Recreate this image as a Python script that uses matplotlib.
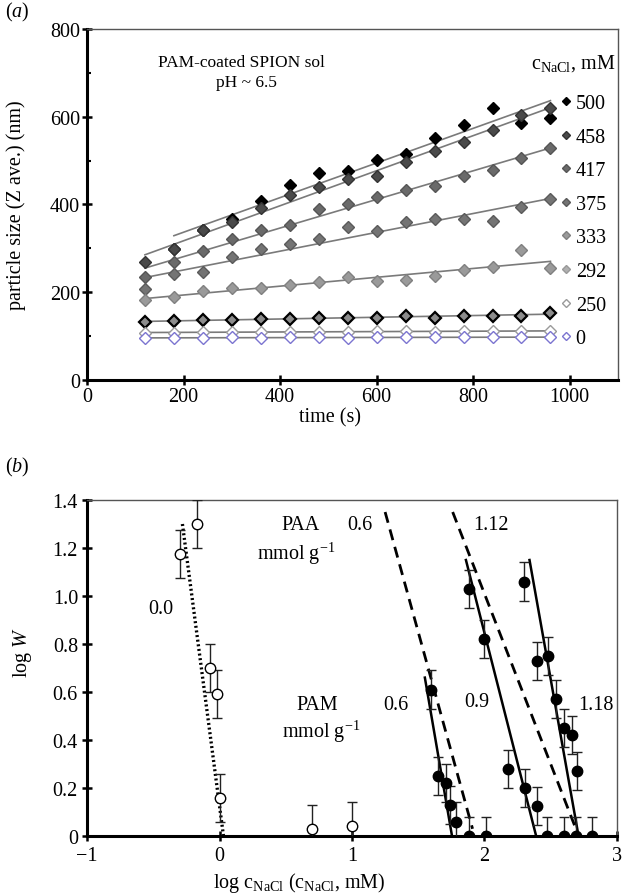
import matplotlib
matplotlib.use('Agg', force=True)
import matplotlib.pyplot as plt
import numpy as np
from matplotlib.lines import Line2D

plt.rcParams['font.family'] = ['Liberation Serif', 'DejaVu Serif']
plt.rcParams['mathtext.fontset'] = 'custom'
plt.rcParams['mathtext.rm'] = 'Liberation Serif'
plt.rcParams['mathtext.it'] = 'Liberation Serif:italic'
plt.rcParams['font.size'] = 14.5

# (a) particle size vs time for each NaCl concentration
time_s = [120, 180, 240, 300, 360, 420, 480, 540, 600, 660, 720, 780, 840, 900, 960]
conc_labels = ['500', '458', '417', '375', '333', '292', '250', '0']
size_500 = [np.nan, 299, 341, 366, 407, 445, 472, 476, 501, 515, 551, 582, 621, 586, 597]
size_458 = [270, 299, 341, 360, 391, 421, 439, 457, 465, 497, 523, 542, 569, 603, 619]
size_417 = [234, 268, 294, 322, 343, 354, 390, 401, 418, 434, 443, 465, 479, 507, 528]
size_375 = [208, 241, 247, 280, 298, 309, 321, 349, 339, 359, 368, 366, 363, 394, 413]
size_333 = [183, 189, 203, 209, 210, 217, 224, 235, 226, 227, 236, 251, 258, 297, 255]
size_292 = [133, 134, 136, 136, 140, 140, 142, 142, 142, 147, 142, 147, 147, 147, 152]
size_250 = [108, 108, 109, 109, 110, 109, 110, 110, 111, 111, 110, 111, 112, 111, 112]
size_0 = [96, 96, 96, 97, 96, 97, 97, 96, 97, 98, 97, 97, 98, 97, 98]

# (b) stability ratio vs log salt concentration
paa00_x = [-0.30, -0.17, -0.07, -0.02, 0.00, 0.70, 1.00]
paa00_y = [1.175, 1.30, 0.70, 0.59, 0.16, 0.03, 0.04]
pam06_x = [1.60, 1.65, 1.71, 1.74, 1.785, 1.88, 2.01]
pam06_y = [0.61, 0.25, 0.22, 0.13, 0.06, 0.0, 0.0]
pam09_x = [1.88, 2.00, 2.175, 2.305, 2.40, 2.475, 2.60]
pam09_y = [1.03, 0.82, 0.28, 0.20, 0.125, 0.0, 0.0]
pam118_x = [2.30, 2.40, 2.48, 2.54, 2.60, 2.66, 2.70, 2.69, 2.81]
pam118_y = [1.06, 0.73, 0.75, 0.57, 0.45, 0.42, 0.27, 0.0, 0.0]
fit_paa00 = ([-0.28, 0.03], [1.30, 0.0])
fit_paa06 = ([1.25, 1.91], [1.35, 0.03])
fit_paa112 = ([1.76, 2.69], [1.35, 0.03])
fit_pam06 = ([1.55, 1.755], [0.66, 0.0])
fit_pam09 = ([1.86, 2.39], [1.15, 0.0])
fit_pam118 = ([2.34, 2.71], [1.15, 0.0])

fig = plt.figure(figsize=(6.22, 8.95), dpi=100)
ax1 = fig.add_axes([0.1399, 0.5743, 0.8537, 0.3922])
ax2 = fig.add_axes([0.1399, 0.0648, 0.852, 0.3754])


def frame(ax):
    for side in ['left', 'bottom']:
        ax.spines[side].set_linewidth(2.2)
        ax.spines[side].set_color('black')
    for side in ['top', 'right']:
        ax.spines[side].set_linewidth(1.0)
        ax.spines[side].set_color('#555555')
    ax.tick_params(which='major', direction='inout', length=7, width=1.8, pad=1.5)
    ax.tick_params(which='minor', direction='in', length=3, width=1.5)
    ax.tick_params(top=False, right=False)


# panel a
series = [size_500, size_458, size_417, size_375, size_333, size_292, size_250, size_0]
faces = ['black', '#4a4a4a', '#6a6a6a', '#747474', '#9a9a9a', '#8c8c8c', 'white', 'white']
edges = ['black', '#333333', '#555555', '#5a5a5a', '#808080', 'black', '#9a9a9a', '#7b74d0']
t = np.array(time_s, dtype=float)
for vals, fc, ec in zip(series, faces, edges):
    v = np.array(vals, dtype=float)
    ok = ~np.isnan(v)
    slope, icpt = np.polyfit(t[ok], v[ok], 1)
    tt = np.array([t[ok][0], t[ok][-1]])
    ax1.plot(tt, slope * tt + icpt, color='#7a7a7a', lw=1.2, zorder=2)
    ax1.plot(t[ok], v[ok], ls='none', marker='D', ms=6, mfc=fc, mec=ec,
             mew=1.6 if ec == 'black' and fc != 'black' else 1.0, zorder=3)

leg_faces = ['black', '#4a4a4a', '#6a6a6a', '#747474', '#9a9a9a', '#b0b0b0', 'white', 'white']
leg_edges = ['black', '#333333', '#555555', '#5a5a5a', '#808080', '#999999', '#9a9a9a', '#7b74d0']
handles = [Line2D([0], [0], ls='none', marker='D', ms=4.5, mfc=fc, mec=ec, label=lab)
           for fc, ec, lab in zip(leg_faces, leg_edges, conc_labels)]
ax1.legend(handles=handles, loc='upper left', bbox_to_anchor=(0.89, 0.815), frameon=False,
           handlelength=0.6, handletextpad=0.2, labelspacing=0.72, borderpad=0, borderaxespad=0,
           fontsize=14.5)
ax1.text(0.995, 0.905, r'c$_{\mathrm{NaCl}}$, mM', transform=ax1.transAxes, ha='right', va='center')
ax1.text(0.29, 0.905, 'PAM-coated SPION sol', transform=ax1.transAxes, ha='center', va='center', fontsize=12.5)
ax1.text(0.30, 0.85, 'pH ~ 6.5', transform=ax1.transAxes, ha='center', va='center', fontsize=12.5)

ax1.set_xlim(0, 1100)
ax1.set_ylim(0, 800)
ax1.set_xticks(np.arange(0, 1001, 200))
ax1.set_yticks(np.arange(0, 801, 200))
ax1.set_yticks(np.arange(100, 800, 200), minor=True)
frame(ax1)
ax1.set_xlabel('time (s)')
ax1.set_ylabel('particle size (Z ave.) (nm)')
ax1.xaxis.set_label_coords(0.458, -0.078)
ax1.yaxis.set_label_coords(-0.115, 0.5)

# panel b
ax2.errorbar(paa00_x, paa00_y, yerr=0.10, fmt='o', ms=7.5, mfc='white', mec='black', mew=1.0,
             ecolor='#222222', elinewidth=1.0, capsize=3.5, capthick=1.0, zorder=3)
for xs, ys in [(pam06_x, pam06_y), (pam09_x, pam09_y), (pam118_x, pam118_y)]:
    ax2.errorbar(xs, ys, yerr=0.08, fmt='o', ms=7.5, mfc='black', mec='black',
                 ecolor='#222222', elinewidth=1.0, capsize=3.5, capthick=1.0, zorder=3)
ax2.plot(*fit_paa00, color='black', lw=2.4, ls=(0, (0.6, 0.8)), zorder=2)
for fx, fy in [fit_paa06, fit_paa112]:
    ax2.plot(fx, fy, color='black', lw=2.0, ls=(0, (4, 2.5)), zorder=2)
for fx, fy in [fit_pam06, fit_pam09, fit_pam118]:
    ax2.plot(fx, fy, color='black', lw=1.8, zorder=2)

ax2.text(0.61, 1.30, 'PAA', ha='center', va='center')
ax2.text(0.58, 1.18, r'mmol g$^{-1}$', ha='center', va='center')
ax2.text(1.06, 1.30, '0.6', ha='center', va='center')
ax2.text(2.05, 1.30, '1.12', ha='center', va='center')
ax2.text(-0.44, 0.95, '0.0', ha='center', va='center')
ax2.text(0.74, 0.55, 'PAM', ha='center', va='center')
ax2.text(0.77, 0.44, r'mmol g$^{-1}$', ha='center', va='center')
ax2.text(1.33, 0.55, '0.6', ha='center', va='center')
ax2.text(1.94, 0.56, '0.9', ha='center', va='center')
ax2.text(2.84, 0.55, '1.18', ha='center', va='center')

ax2.set_xlim(-1, 3)
ax2.set_ylim(0, 1.4)
ax2.set_xticks([-1, 0, 1, 2, 3])
ax2.set_yticks(np.arange(0, 1.41, 0.2))
ax2.set_yticklabels(['0', '0.2', '0.4', '0.6', '0.8', '1.0', '1.2', '1.4'])
frame(ax2)
ax2.tick_params(axis='x', which='major', pad=4)
ax2.tick_params(axis='y', which='major', pad=3)
ax2.set_xlabel(r'log c$_{\mathrm{NaCl}}$ (c$_{\mathrm{NaCl}}$, mM)')
ax2.set_ylabel(r'log $W$')
ax2.xaxis.set_label_coords(0.40, -0.101)
ax2.yaxis.set_label_coords(-0.10, 0.55)

fig.text(0.008, 0.986, r'($a$)', ha='left', va='center')
fig.text(0.008, 0.478, r'($b$)', ha='left', va='center')

fig.savefig('out.png', dpi=100)
